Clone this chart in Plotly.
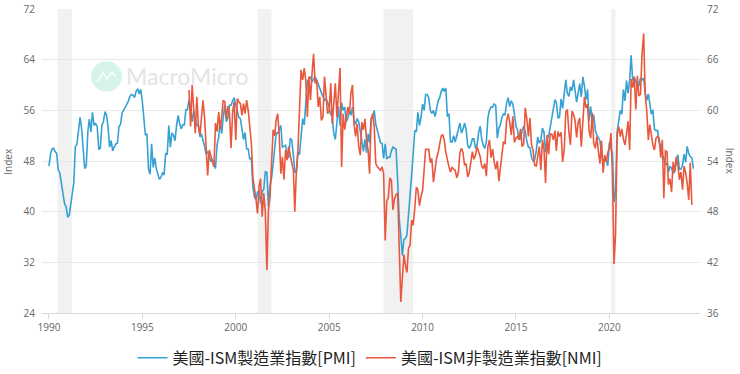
import pandas as pd
import plotly.graph_objects as go

# ISM Manufacturing PMI, monthly from 1990-01 (left axis)
pmi = [
    47.2, 49.1, 49.9, 50.0, 49.5, 49.2, 46.6, 46.1, 44.5, 43.2, 41.3, 40.8,
    39.2, 39.4, 40.7, 42.8, 44.5, 50.3, 50.6, 52.9, 54.9, 53.2, 49.6, 46.8,
    47.3, 52.7, 54.6, 52.6, 55.7, 53.6, 53.9, 53.5, 49.9, 50.0, 53.6, 54.2,
    55.8, 55.2, 53.4, 50.2, 51.2, 49.6, 50.2, 50.7, 50.8, 53.4, 53.8, 55.6,
    56.0, 56.5, 56.9, 57.4, 58.2, 58.5, 58.4, 58.0, 59.0, 59.4, 58.6, 59.3,
    57.4, 55.1, 52.1, 52.3, 46.7, 45.9, 50.7, 47.0, 48.5, 46.8, 45.9, 45.1,
    45.5, 46.1, 45.8, 49.2, 49.0, 53.6, 50.2, 52.4, 52.1, 51.2, 53.7, 55.2,
    53.8, 53.1, 53.7, 53.7, 56.1, 56.1, 57.7, 56.3, 54.2, 55.9, 54.6, 53.6,
    53.6, 51.8, 52.3, 51.4, 50.3, 49.1, 49.4, 49.0, 47.9, 48.2, 47.4, 46.8,
    50.6, 51.7, 54.4, 52.3, 54.9, 56.8, 54.2, 54.8, 56.8, 56.8, 57.5, 58.0,
    56.9, 55.8, 54.9, 54.7, 53.2, 51.4, 52.5, 49.9, 49.9, 48.3, 48.5, 43.9,
    42.3, 41.9, 43.1, 43.2, 41.3, 43.2, 43.5, 46.3, 46.2, 40.8, 44.1, 45.3,
    47.5, 50.7, 52.4, 52.4, 53.1, 53.6, 50.2, 50.3, 50.5, 49.0, 48.5, 51.6,
    51.3, 48.8, 46.3, 46.1, 49.4, 49.0, 51.8, 54.7, 53.7, 57.0, 60.5, 61.0,
    61.3, 60.5, 61.0, 61.3, 60.8, 60.0, 59.5, 58.8, 58.2, 57.5, 57.8, 57.3,
    56.4, 55.3, 55.2, 52.3, 51.4, 53.8, 56.6, 53.6, 57.2, 56.0, 56.5, 54.2,
    54.8, 56.0, 55.2, 56.5, 54.4, 53.8, 54.7, 54.2, 52.9, 51.2, 49.5, 51.4,
    49.3, 52.3, 50.9, 54.7, 55.0, 56.0, 53.8, 52.9, 52.0, 50.9, 50.8, 48.4,
    50.7, 48.3, 48.6, 48.6, 49.6, 50.2, 50.0, 49.9, 44.8, 38.9, 36.2, 33.1,
    35.6, 35.8, 36.3, 40.1, 42.8, 45.8, 49.1, 52.8, 52.6, 55.7, 53.6, 54.9,
    57.0, 56.0, 58.5, 58.5, 58.0, 56.0, 55.5, 56.0, 55.0, 56.5, 57.5, 58.0,
    59.0, 59.5, 59.0, 59.5, 55.0, 55.5, 51.0, 51.0, 52.0, 51.0, 52.0, 53.0,
    54.0, 52.4, 53.0, 54.0, 53.0, 50.5, 50.0, 50.5, 51.5, 51.5, 50.0, 50.5,
    52.5, 53.5, 51.5, 50.5, 50.0, 51.0, 54.8, 56.0, 56.5, 56.5, 57.0, 56.8,
    51.6, 53.2, 53.7, 54.9, 55.4, 55.3, 57.1, 58.0, 56.6, 57.5, 57.0, 55.5,
    53.5, 52.9, 51.5, 51.5, 52.8, 53.5, 52.7, 51.1, 50.2, 50.1, 48.6, 48.0,
    48.2, 49.5, 51.8, 50.8, 51.3, 53.2, 52.6, 49.4, 51.5, 51.9, 53.2, 54.7,
    56.0, 57.7, 57.2, 54.8, 54.9, 57.8, 56.3, 58.8, 60.8, 58.7, 58.2, 59.7,
    59.1, 60.8, 59.3, 57.3, 58.7, 60.2, 58.1, 61.3, 59.8, 57.7, 59.3, 54.3,
    56.6, 54.2, 55.3, 52.8, 52.1, 51.7, 51.2, 49.1, 47.8, 48.3, 48.1, 47.2,
    50.9, 50.1, 49.1, 41.5, 43.1, 52.6, 54.2, 56.0, 55.4, 59.3, 57.5, 60.7,
    58.7, 60.8, 64.7, 60.7, 61.2, 60.6, 59.5, 59.9, 61.1, 60.8, 61.1, 58.8,
    57.6, 58.6, 57.1, 55.4, 56.1, 53.0, 52.8, 52.8, 50.9, 50.2, 49.0, 48.4,
    47.4, 47.7, 46.3, 47.1, 46.9, 46.0, 46.4, 47.6, 49.0, 46.7, 46.7, 47.4,
    49.1, 47.8, 50.3, 49.2, 48.7, 48.5, 46.8,
]
pmi_start = "1990-01-01"

# ISM Non-Manufacturing (NMI), monthly from 1997-07 (right axis)
nmi = [
    62.4, 58.1, 63.0, 60.0, 57.3, 61.6,
    58.1, 57.1, 59.0, 61.2, 59.2, 56.1, 52.3, 55.3, 54.5, 53.8, 53.3, 58.5,
    57.5, 59.8, 57.7, 59.2, 61.2, 61.0, 59.0, 60.5, 59.6, 55.5, 59.8, 61.0,
    56.5, 61.4, 61.0, 60.8, 59.4, 60.8, 59.6, 61.2, 60.0, 58.1, 56.1, 52.1,
    51.0, 49.4, 47.8, 51.0, 51.9, 47.4, 50.2, 48.0, 41.1, 48.2, 49.8, 54.1,
    57.7, 57.0, 58.9, 59.6, 57.0, 52.5, 54.5, 51.8, 55.3, 54.1, 55.7, 54.7,
    53.7, 52.9, 48.0, 52.9, 55.3, 59.2, 64.8, 63.6, 65.0, 63.6, 59.2, 64.0,
    61.2, 64.4, 66.7, 63.2, 63.6, 60.4, 61.6, 58.8, 59.2, 64.0, 61.2, 59.6,
    60.0, 63.2, 58.4, 61.2, 63.2, 59.2, 62.4, 65.0, 53.3, 59.6, 57.7, 59.2,
    60.4, 59.6, 62.0, 63.0, 58.4, 56.9, 58.4, 55.7, 54.7, 58.6, 57.7, 59.0,
    56.5, 55.3, 52.5, 58.8, 59.6, 58.0, 53.7, 53.3, 53.1, 52.9, 53.3, 52.5,
    44.6, 49.3, 49.6, 52.0, 51.7, 48.2, 49.5, 50.0, 50.2, 44.4, 37.3, 40.1,
    42.9, 41.6, 40.8, 43.7, 44.0, 47.0, 46.4, 48.4, 50.9, 50.6, 48.7, 49.8,
    50.5, 53.0, 55.4, 55.4, 55.4, 53.8, 54.3, 51.5, 53.2, 54.3, 55.0, 56.0,
    57.0, 57.1, 56.5, 55.0, 54.0, 53.3, 52.7, 53.3, 53.0, 52.9, 52.0, 52.6,
    55.0, 55.5, 55.0, 53.5, 53.7, 52.1, 52.6, 53.7, 55.1, 54.2, 54.7, 55.7,
    55.2, 54.5, 53.4, 53.1, 53.7, 52.2, 55.7, 56.5, 54.4, 55.4, 53.9, 53.0,
    54.0, 51.6, 53.1, 55.2, 56.3, 56.0, 58.7, 59.6, 58.6, 57.1, 59.3, 56.2,
    56.7, 56.9, 56.5, 57.8, 55.7, 56.0, 60.3, 59.0, 56.9, 59.1, 55.9, 55.3,
    53.5, 53.4, 54.5, 55.7, 52.9, 56.5, 55.5, 51.4, 57.1, 54.8, 57.2, 57.2,
    56.5, 57.6, 55.2, 57.5, 56.9, 57.4, 53.9, 55.3, 59.8, 60.1, 57.4, 55.9,
    59.9, 59.5, 58.8, 56.8, 58.6, 59.1, 55.7, 58.5, 61.6, 60.3, 60.7, 57.6,
    56.7, 59.7, 56.1, 55.5, 56.9, 55.1, 53.7, 56.4, 52.6, 54.7, 53.9, 55.0,
    55.5, 57.3, 52.5, 41.8, 45.4, 57.1, 58.1, 56.9, 57.8, 56.6, 55.9, 57.2,
    58.7, 55.3, 63.7, 62.7, 64.0, 60.1, 64.1, 61.7, 61.9, 66.7, 69.1, 62.0,
    59.9, 56.5, 58.3, 57.1, 55.9, 55.3, 56.7, 56.9, 56.7, 54.4, 56.5, 49.6,
    55.2, 55.1, 51.2, 51.9, 50.3, 53.9, 52.7, 54.5, 53.6, 51.8, 52.7, 50.6,
    53.4, 52.6, 51.4, 49.4, 53.8, 48.8,
]
nmi_start = "1997-07-01"

# Recession periods (shaded)
rec_start = ["1990-06-20", "2001-03-01", "2007-12-01", "2020-02-01"]
rec_end = ["1991-03-25", "2001-11-30", "2009-06-30", "2020-04-30"]

left_ticks = [24, 32, 40, 48, 56, 64, 72]
right_ticks = [36, 42, 48, 54, 60, 66, 72]

pmi_dates = pd.date_range(pmi_start, periods=len(pmi), freq="MS")
nmi_dates = pd.date_range(nmi_start, periods=len(nmi), freq="MS")

fig = go.Figure()
fig.add_trace(go.Scatter(
    x=pmi_dates, y=pmi, mode="lines", name="美國-ISM製造業指數[PMI]",
    line=dict(color="#35a2d3", width=1.6), yaxis="y"))
fig.add_trace(go.Scatter(
    x=nmi_dates, y=nmi, mode="lines", name="美國-ISM非製造業指數[NMI]",
    line=dict(color="#e9573d", width=1.6), yaxis="y2"))

shapes = []
for s, e in zip(rec_start, rec_end):
    shapes.append(dict(type="rect", xref="x", yref="paper", x0=s, x1=e,
                       y0=0, y1=1, fillcolor="#f1f1f1", line=dict(width=0),
                       layer="below"))
# watermark logo circle
shapes.append(dict(type="circle", xref="paper", yref="paper",
                   x0=0.0745, x1=0.1215, y0=0.728, y1=0.828,
                   fillcolor="#d6f4eb", line=dict(width=0), layer="below"))
shapes.append(dict(type="path", xref="paper", yref="paper",
                   path="M 0.084 0.762 L 0.093 0.790 L 0.099 0.770 L 0.106 0.792 L 0.112 0.780",
                   line=dict(color="#ffffff", width=1.5), layer="below"))

tickfont = dict(family="Open Sans, Liberation Sans, sans-serif", size=10, color="#666666")

fig.update_layout(
    width=740, height=374,
    margin=dict(l=42, r=40, t=9, b=61, autoexpand=False),
    paper_bgcolor="white", plot_bgcolor="white",
    showlegend=True,
    legend=dict(orientation="h", xref="container", yref="container",
                x=0.5, xanchor="center", y=0.043, yanchor="middle",
                font=dict(family="Noto Sans CJK TC, Noto Sans, sans-serif", size=16, color="#222222"),
                itemwidth=30, traceorder="normal", bgcolor="rgba(0,0,0,0)"),
    xaxis=dict(type="date", range=["1989-08-18", "2024-11-07"],
               tick0="1990-01-01", dtick="M60", tickformat="%Y", automargin=False,
               showgrid=False, zeroline=False, showline=True, linecolor="#d9d9d9",
               ticks="outside", ticklen=5, tickcolor="#d9d9d9", tickfont=tickfont),
    yaxis=dict(range=[24, 72], tickvals=left_ticks, showgrid=True, gridcolor="#e8e8e8",
               zeroline=False, showline=False, tickfont=tickfont, ticks="",
               ticklabelstandoff=6, automargin=False),
    yaxis2=dict(range=[36, 72], tickvals=right_ticks, overlaying="y", side="right",
                showgrid=False, zeroline=False, showline=False, tickfont=tickfont,
                ticks="", ticklabelstandoff=6, automargin=False),
    shapes=shapes,
    annotations=[
        dict(text="MacroMicro", xref="paper", yref="paper", x=0.124, y=0.778,
             xanchor="left", yanchor="middle", showarrow=False,
             font=dict(family="Lato, Open Sans, sans-serif", size=23, color="#e4e4e4")),
        dict(text="Index", xref="paper", yref="paper", x=-0.052, y=0.5,
             xanchor="center", yanchor="middle", textangle=-90, showarrow=False,
             font=dict(family="Open Sans, sans-serif", size=10, color="#666666")),
        dict(text="Index", xref="paper", yref="paper", x=1.046, y=0.5,
             xanchor="center", yanchor="middle", textangle=90, showarrow=False,
             font=dict(family="Open Sans, sans-serif", size=10, color="#666666")),
    ],
)

fig.write_html("out.html", config={"displayModeBar": False},
               post_script="document.body.style.margin='0';")
